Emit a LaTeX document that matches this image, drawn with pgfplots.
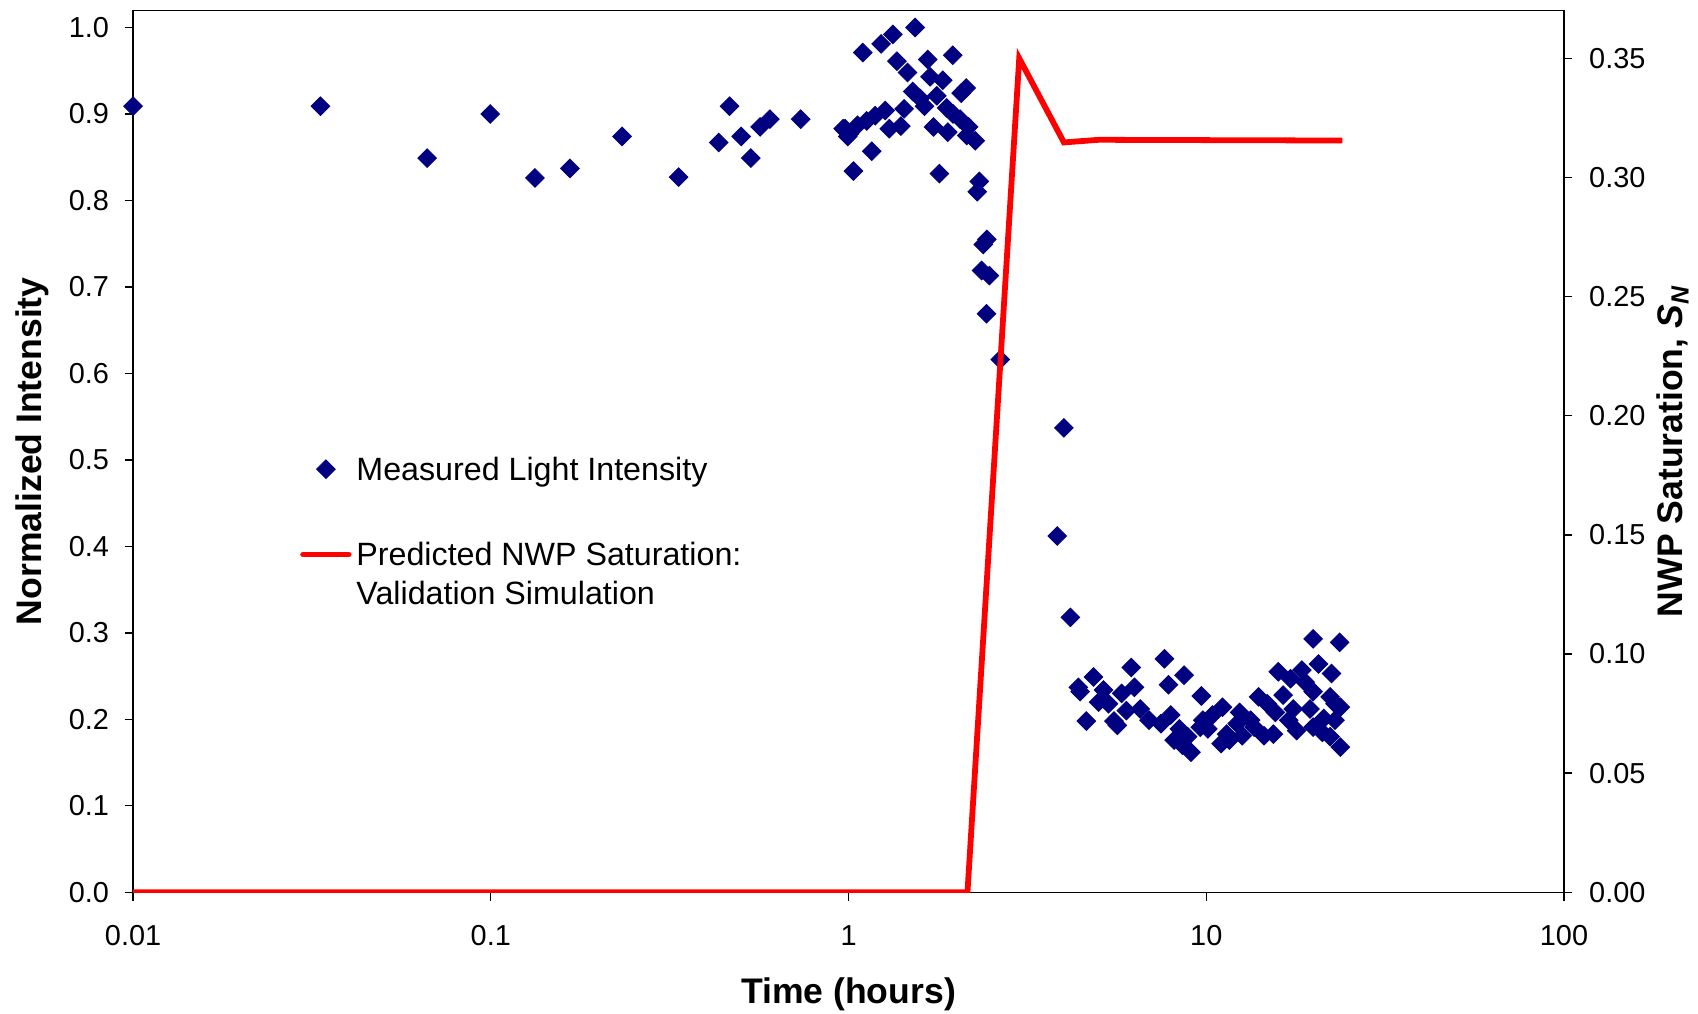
\documentclass[border=0pt]{standalone}
\usepackage{pgfplots}
\pgfplotsset{compat=1.18}
\usepackage{fontspec}
\setmainfont{Liberation Sans}
\definecolor{navy}{HTML}{000080}
\definecolor{myred}{HTML}{FF0000}
\pgfplotsset{
  legline/.style={legend image code/.code={\draw[##1, line cap=round] (0pt,5pt) -- (20.5pt,5pt);}},
  legmark/.style={legend image code/.code={\draw[##1] plot coordinates {(10.25pt,5pt)};}},
}

\begin{document}
\begin{tikzpicture}
\begin{axis}[
  name=main,
  scale only axis, width=644pt, height=397pt,
  xmode=log, xmin=0.01, xmax=100,
  /pgf/number format/assume math mode=true,
  ticklabel style={font=\fontsize{13}{15}\selectfont},
  tick align=outside, major tick length=3.8pt,
  axis line style={line width=0.6pt}, tick style={black, line width=0.6pt},
  ymin=0, ymax=1.02,
  ytick={0,0.1,0.2,0.3,0.4,0.5,0.6,0.7,0.8,0.9,1.0},
  yticklabel style={/pgf/number format/.cd, fixed, fixed zerofill, precision=1, /tikz/.cd, xshift=-3.5pt},
  xtick={0.01,0.1,1,10,100},
  xticklabels={0.01,0.1,1,10,100},
  xticklabel style={yshift=-7.7pt},
  xminorticks=false,
  xtick pos=bottom, ytick pos=left,
  xlabel={\bfseries Time (hours)},
  ylabel={\bfseries Normalized Intensity},
  label style={font=\fontsize{16}{18}\selectfont},
  xlabel style={at={(axis description cs:0.5,-0.116)}, anchor=center},
  ylabel style={at={(axis description cs:-0.0702,0.5)}, anchor=center},
  clip=false,
]
\addplot[only marks, mark=square*, mark size=2.95pt, mark options={rotate=45, fill=navy, draw=navy}, color=navy] coordinates {
(0.01,0.909) (0.0334,0.909) (0.0664,0.849) (0.0996,0.900) (0.1328,0.826)
(0.1664,0.837) (0.2328,0.874) (0.335,0.827) (0.4335,0.867) (0.465,0.909)
(0.501,0.874) (0.533,0.849) (0.566,0.885) (0.6026,0.894) (0.735,0.894)
(0.966,0.883) (0.995,0.874)
(1.535,1.000) (1.33,0.992) (1.233,0.981) (1.096,0.971) (1.956,0.968)
(1.365,0.961) (1.666,0.963) (1.462,0.948) (1.69,0.943) (1.834,0.939)
(2.132,0.930) (2.064,0.924) (1.512,0.926) (1.765,0.921) (1.585,0.918)
(1.63,0.909) (1.43,0.906) (1.266,0.904) (1.187,0.898) (1.124,0.892)
(1.059,0.887) (0.978,0.883) (1.006,0.877) (1.30,0.883) (1.40,0.886)
(1.88,0.907) (1.96,0.900) (2.05,0.894) (2.165,0.885) (1.728,0.885)
(1.894,0.879) (2.14,0.875) (2.26,0.869) (1.161,0.857) (1.032,0.834)
(1.795,0.831) (2.32,0.822) (2.29,0.810) (2.435,0.755) (2.38,0.749)
(2.355,0.719) (2.475,0.713) (2.43,0.669) (2.655,0.616)
(4.0,0.537) (3.83,0.412) (4.17,0.318)
(19.9,0.293) (23.6,0.289) (7.64,0.270) (6.17,0.260) (4.84,0.249)
(8.67,0.251) (4.39,0.237) (7.84,0.240) (5.16,0.234) (6.3,0.237)
(5.8,0.230) (9.69,0.227) (4.44,0.232) (5.0,0.220) (5.33,0.218)
(5.98,0.210) (6.54,0.212) (4.62,0.198) (5.52,0.198) (5.64,0.193)
(6.92,0.199) (7.47,0.195) (7.96,0.205) (8.41,0.189) (8.13,0.176)
(8.58,0.170) (9.06,0.162) (8.87,0.180) (9.78,0.199) (10.1,0.189)
(10.4,0.205) (11.1,0.214) (11.0,0.172) (11.6,0.176) (12.4,0.208)
(12.2,0.195) (12.6,0.181) (13.3,0.199) (14.0,0.226) (14.5,0.181)
(14.8,0.218) (15.4,0.183) (15.6,0.208) (15.9,0.255) (16.4,0.228)
(17.2,0.247) (17.0,0.199) (17.5,0.212) (17.9,0.187) (18.5,0.257)
(18.9,0.243) (19.5,0.212) (19.9,0.232) (20.6,0.264) (21.3,0.201)
(22.2,0.226) (22.4,0.253) (22.9,0.218) (23.7,0.214) (21.1,0.185)
(22.9,0.199) (23.7,0.168) (22.2,0.180) (19.9,0.191) (13.6,0.191)
(11.4,0.183) (9.62,0.191)
};
\end{axis}
\begin{axis}[
  scale only axis, width=644pt, height=397pt,
  xmode=log, xmin=0.01, xmax=100,
  /pgf/number format/assume math mode=true,
  ticklabel style={font=\fontsize{13}{15}\selectfont},
  tick align=outside, major tick length=3.8pt,
  axis line style={line width=0.6pt}, tick style={black, line width=0.6pt},
  ymin=0, ymax=0.3702,
  ytick={0,0.05,0.1,0.15,0.2,0.25,0.3,0.35},
  yticklabel style={/pgf/number format/.cd, fixed, fixed zerofill, precision=2, /tikz/.cd, xshift=4pt},
  axis x line=none,
  axis y line*=right,
  ylabel={\bfseries NWP Saturation, \textit{S}\textsubscript{\textit{N}}},
  label style={font=\fontsize{16}{18}\selectfont},
  ylabel style={at={(axis description cs:1.076,0.5)}, anchor=center},
  legend style={draw=none, fill=none, inner sep=0pt,
    at={(axis description cs:0.1165,0.4940)}, anchor=north west,
    font=\fontsize{14.5}{17}\selectfont,
    row sep=25pt,
    cells={anchor=base west},
    nodes={inner sep=0pt},
    /tikz/every odd column/.append style={column sep=2.2pt}},
]
\addlegendimage{only marks, mark=square*, mark size=2.95pt, mark options={rotate=45, fill=navy, draw=navy}, color=navy, legmark}
\addlegendentry{Measured Light Intensity}
\addplot[myred, line width=2.6pt, line join=miter, legline] coordinates {
(0.01,0) (2.15,0) (3.0,0.35) (4.0,0.3147) (5.0,0.3158) (24.0,0.3155)
};
\addlegendentry{\begin{tabular}[t]{@{}l@{}}Predicted NWP Saturation:\\[0.5pt]Validation Simulation\end{tabular}}
\end{axis}
\pgfresetboundingbox
\path ([xshift=-59.9pt,yshift=-54.5pt]main.south west) rectangle ([xshift=60.3pt,yshift=4.6pt]main.north east);
\end{tikzpicture}
\end{document}
